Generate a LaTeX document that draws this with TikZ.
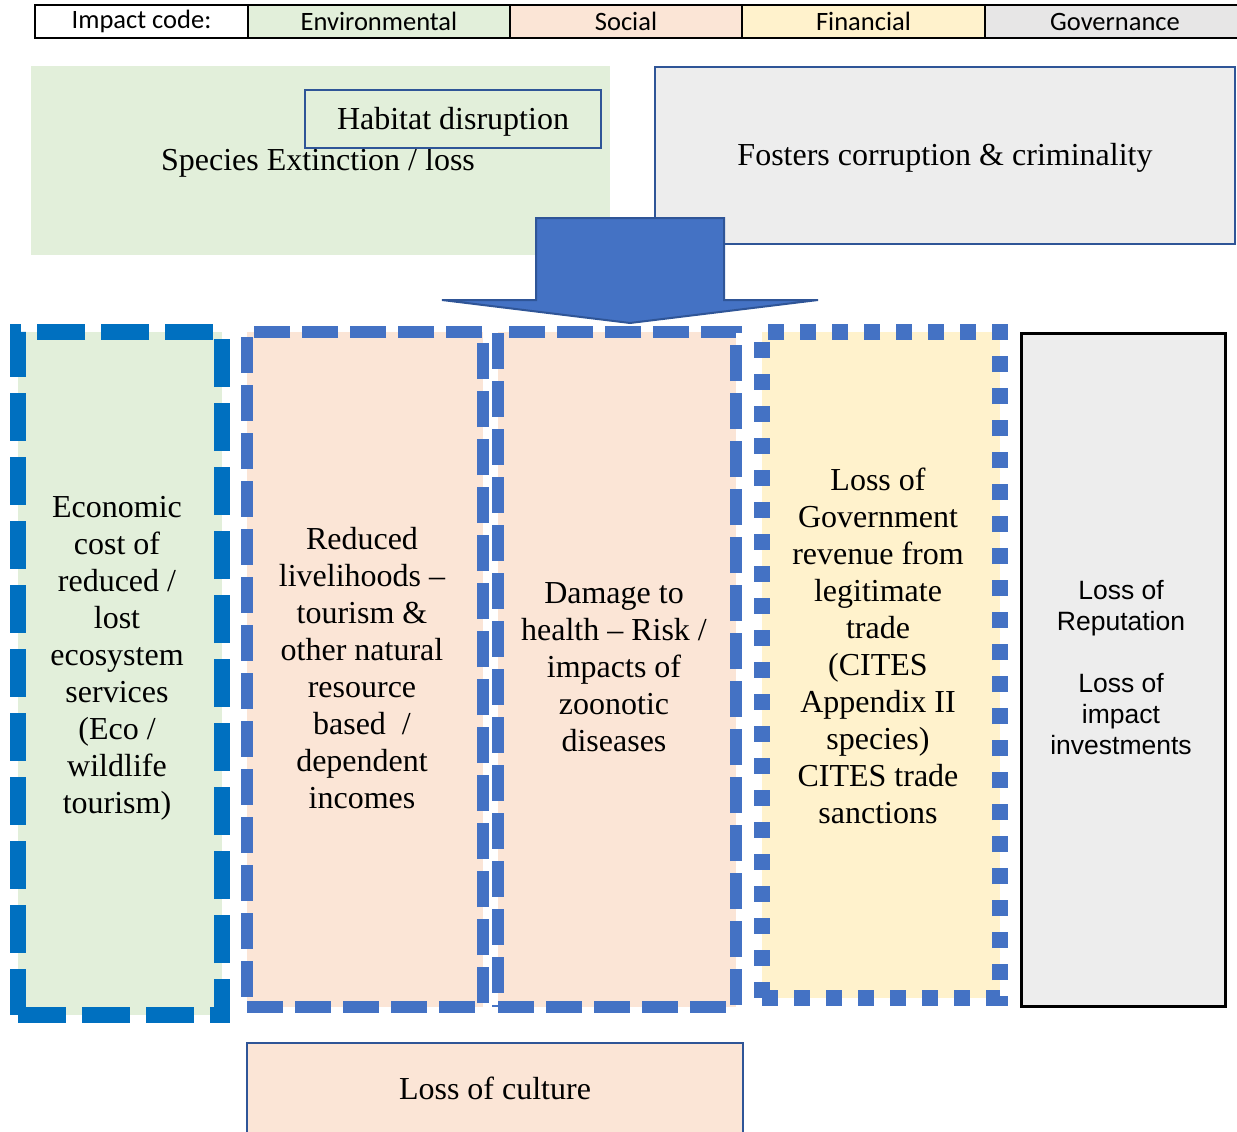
\documentclass[tikz,border=0pt]{standalone}
\usepackage{fontspec}
\setmainfont{Liberation Serif}
\newfontfamily\arialfont{Liberation Sans}
\newfontfamily\calibrifont{Carlito}
\usepackage{tikz}

\definecolor{envgreen}{HTML}{E2EFDA}
\definecolor{socpink}{HTML}{FBE5D6}
\definecolor{finyellow}{HTML}{FFF2CC}
\definecolor{govgrey}{HTML}{EDEDED}
\definecolor{hdrgrey}{HTML}{E7E6E6}
\definecolor{dashblue}{HTML}{4472C4}
\definecolor{brightblue}{HTML}{0070C0}
\definecolor{edgeblue}{HTML}{2F5597}

\tikzset{
	impact/.style = {shape = rectangle, inner sep = 0pt, outer sep = 0pt},
	codecell/.style = {impact, draw = black, line width = 2pt, minimum height = 33pt, font = \calibrifont\fontsize{26.5}{31}\selectfont},
	serif text/.style = {align = center, font = \fontsize{32}{37}\selectfont},
	sans text/.style = {align = center, font = \arialfont\fontsize{26.5}{31}\selectfont},
	econedge/.style = {draw = brightblue, line width = 16pt, dash pattern = on 48pt off 16pt},
	socedge/.style = {draw = dashblue, line width = 12pt, dash pattern = on 36pt off 12pt},
	finedge/.style = {draw = dashblue, line width = 16pt, dash pattern = on 16pt off 16pt},
	thinedge/.style = {draw = edgeblue, line width = 2.5pt}
}

\begin{document}
\begin{tikzpicture}[x = 1pt, y = -1pt]
	\useasboundingbox (0, 0) rectangle (1237, 1132);

	\node[codecell, fill = white, minimum width = 213pt] (code) at (141.5, 21.5) {Impact code:};
	\node[codecell, fill = envgreen, minimum width = 262pt] (env) at (379, 21.5) {Environmental};
	\node[codecell, fill = socpink, minimum width = 232pt] (soc) at (626, 21.5) {Social};
	\node[codecell, fill = finyellow, minimum width = 243pt] (fin) at (863.5, 21.5) {Financial};
	\node[codecell, fill = hdrgrey, minimum width = 260pt] (gov) at (1115, 21.5) {Governance};

	\node[impact, fill = envgreen, minimum width = 579pt, minimum height = 189pt] (species) at (320.5, 160.5) {};
	\node[serif text] (speciestxt) at (318, 163) {Species Extinction / loss};
	\node[impact, thinedge, fill = envgreen, minimum width = 296pt, minimum height = 58pt, serif text, text depth = 1pt] (habitat) at (453, 119) {Habitat disruption};

	\node[impact, thinedge, fill = govgrey, minimum width = 580pt, minimum height = 177pt, serif text, text depth = 2pt] (corrupt) at (945, 155.5) {Fosters corruption \& criminality};

	\draw[thinedge, line width = 2pt, fill = dashblue] (536, 218) -- (724, 218) -- (724, 300) -- (818, 300) -- (630, 323) -- (442, 300) -- (536, 300) -- cycle;

	\node[impact, econedge, fill = envgreen, minimum width = 204pt, minimum height = 683pt] (econ) at (120, 673.5) {};
	\node[impact, socedge, fill = socpink, minimum width = 236pt, minimum height = 675pt] (liveli) at (365, 669.5) {};
	\node[impact, socedge, fill = socpink, minimum width = 238pt, minimum height = 675pt] (health) at (617, 669.5) {};
	\node[impact, finedge, fill = finyellow, minimum width = 238pt, minimum height = 666pt] (revenue) at (881, 665) {};
	\node[impact, draw = black, line width = 3pt, fill = govgrey, minimum width = 204pt, minimum height = 673pt] (reput) at (1123, 669.5) {};

	\node[serif text] (econtxt) at (117, 658) {Economic\\cost of\\reduced /\\lost\\ecosystem\\services\\(Eco /\\wildlife\\tourism)};
	\node[serif text] (livelitxt) at (362, 668) {Reduced\\livelihoods –\\tourism \&\\other natural\\resource\\based\ \ /\\dependent\\incomes};
	\node[serif text] (healthtxt) at (614, 667) {Damage to\\health – Risk /\\impacts of\\zoonotic\\diseases};
	\node[serif text] (revenuetxt) at (878, 646) {Loss of\\Government\\revenue from\\legitimate\\trade\\(CITES\\Appendix II\\species)\\CITES trade\\sanctions};
	\node[sans text] (reputtxt) at (1121, 667.5) {Loss of\\Reputation\\[31pt]Loss of\\impact\\investments};

	\node[impact, thinedge, fill = socpink, minimum width = 496pt, minimum height = 90pt, serif text] (culture) at (495, 1088) {Loss of culture};

\end{tikzpicture}
\end{document}
